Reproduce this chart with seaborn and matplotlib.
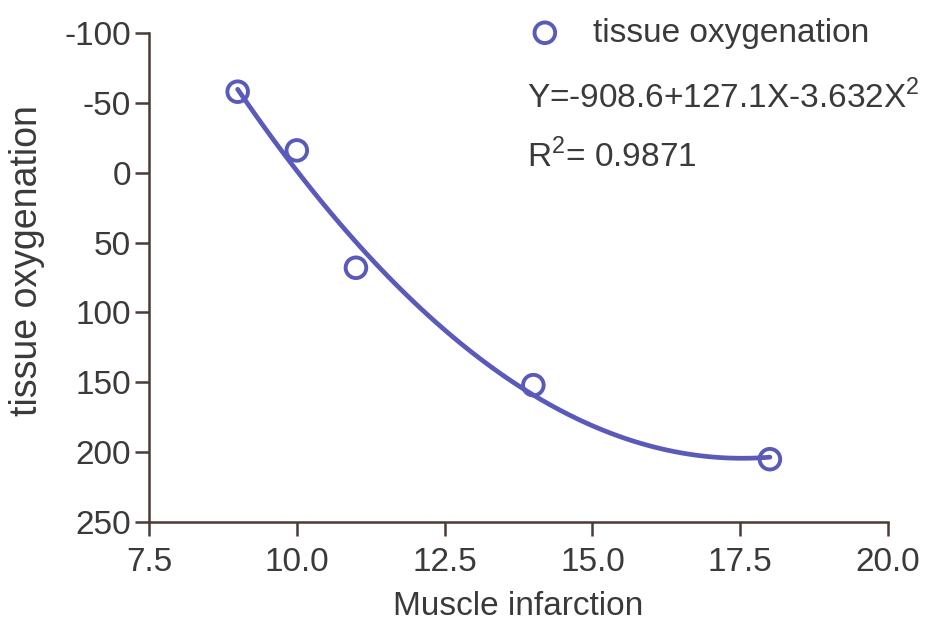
import numpy as np
import pandas as pd
import matplotlib
matplotlib.use("Agg")
import matplotlib.pyplot as plt
import seaborn as sns

# values
muscle_infarction = [9.0, 10.0, 11.0, 14.0, 18.0]
tissue_oxygenation = [-58, -16, 68, 152, 205]
series_name = "tissue oxygenation"
equation_text = "Y=-908.6+127.1X-3.632X$^2$"
r2_text = "R$^2$= 0.9871"
x_ticks = [7.5, 10.0, 12.5, 15.0, 17.5, 20.0]
y_ticks = [-100, -50, 0, 50, 100, 150, 200, 250]

df = pd.DataFrame({"x": muscle_infarction, "y": tissue_oxygenation})

sns.set_style("ticks")
plt.rcParams['font.family'] = ['Liberation Sans', 'DejaVu Sans']
plt.rcParams['mathtext.fontset'] = 'custom'
plt.rcParams['mathtext.rm'] = 'Liberation Sans'
plt.rcParams['axes.unicode_minus'] = False

blue = "#5a5aba"
axis_col = "#4a3b37"
text_col = "#3a3a3a"
fs = 24

fig = plt.figure(figsize=(9.31, 6.23), dpi=100)
ax = fig.add_axes([0.160, 0.162, 0.794, 0.785])

# quadratic fit line, computed by seaborn from the points
sns.regplot(data=df, x="x", y="y", order=2, ci=None, scatter=False,
            line_kws={"color": blue, "lw": 3.4}, ax=ax)
sns.scatterplot(data=df, x="x", y="y", ax=ax, marker="o", s=220,
                facecolor="none", edgecolor=blue, linewidth=2.8,
                label=series_name, zorder=3)

ax.set_xlim(7.5, 20.0)
ax.set_ylim(250, -100)
ax.set_xticks(x_ticks)
ax.set_xticklabels([f"{v:.1f}" for v in x_ticks])
ax.set_yticks(y_ticks)
ax.set_xlabel("Muscle infarction", fontsize=fs, color=text_col, labelpad=9)
ax.set_ylabel("tissue oxygenation", fontsize=27, color=text_col)
ax.yaxis.set_label_coords(-0.14, 0.535)

for side in ["top", "right"]:
    ax.spines[side].set_visible(False)
for side in ["left", "bottom"]:
    ax.spines[side].set_color(axis_col)
    ax.spines[side].set_linewidth(1.8)
ax.tick_params(axis="both", length=10, width=1.8, color=axis_col,
               labelsize=fs, labelcolor=text_col, pad=3)
ax.tick_params(axis="x", pad=8)

leg = ax.legend(loc="center left", bbox_to_anchor=(0.513, 1.0), frameon=False,
                fontsize=fs, handlelength=1.0, handletextpad=0.93,
                borderpad=0, borderaxespad=0)
for t in leg.get_texts():
    t.set_color(text_col)

ax.text(0.511, 0.847, equation_text, transform=ax.transAxes, fontsize=fs,
        color=text_col, va="baseline", ha="left")
ax.text(0.511, 0.726, r2_text, transform=ax.transAxes, fontsize=fs,
        color=text_col, va="baseline", ha="left")

fig.savefig("out.png", dpi=100)
